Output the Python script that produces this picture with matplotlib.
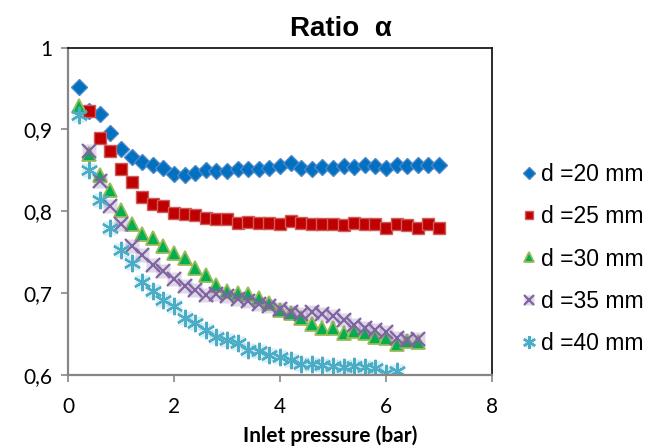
import matplotlib
matplotlib.use("Agg")
import matplotlib.pyplot as plt
from matplotlib.legend_handler import HandlerTuple
from matplotlib.ticker import FuncFormatter
import numpy as np

# pressure steps (bar)
p20 = np.arange(0.2, 7.01, 0.2)
p25 = np.arange(0.4, 7.01, 0.2)
p30 = np.arange(0.2, 6.61, 0.2)
p35 = np.arange(0.4, 6.61, 0.2)
p40 = np.arange(0.2, 6.21, 0.2)

ratio20 = [0.952, 0.922, 0.919, 0.895, 0.876, 0.866, 0.860, 0.857, 0.853, 0.845,
           0.844, 0.847, 0.850, 0.849, 0.849, 0.852, 0.851, 0.851, 0.853, 0.855,
           0.859, 0.853, 0.851, 0.854, 0.853, 0.855, 0.854, 0.856, 0.855, 0.853,
           0.857, 0.855, 0.856, 0.856, 0.857]
ratio25 = [0.922, 0.889, 0.873, 0.852, 0.836, 0.818, 0.809, 0.806, 0.798, 0.797,
           0.796, 0.792, 0.791, 0.790, 0.786, 0.787, 0.786, 0.786, 0.785, 0.788,
           0.786, 0.785, 0.785, 0.785, 0.783, 0.786, 0.785, 0.785, 0.780, 0.785,
           0.783, 0.779, 0.785, 0.780]
ratio30 = [0.928, 0.870, 0.844, 0.826, 0.802, 0.785, 0.772, 0.767, 0.757, 0.749,
           0.743, 0.731, 0.722, 0.710, 0.702, 0.700, 0.699, 0.694, 0.688, 0.680,
           0.676, 0.670, 0.662, 0.658, 0.658, 0.651, 0.654, 0.651, 0.647, 0.645,
           0.638, 0.641, 0.640]
ratio35 = [0.873, 0.837, 0.807, 0.784, 0.758, 0.747, 0.734, 0.727, 0.717, 0.709,
           0.704, 0.698, 0.699, 0.696, 0.693, 0.690, 0.687, 0.684, 0.681, 0.677,
           0.675, 0.677, 0.675, 0.672, 0.667, 0.661, 0.657, 0.655, 0.652, 0.645,
           0.643, 0.644]
ratio40 = [0.918, 0.850, 0.814, 0.780, 0.753, 0.737, 0.714, 0.702, 0.692, 0.684,
           0.670, 0.664, 0.655, 0.647, 0.643, 0.639, 0.631, 0.629, 0.625, 0.622,
           0.618, 0.613, 0.613, 0.612, 0.611, 0.610, 0.611, 0.610, 0.608, 0.603,
           0.605]

labels = ["d =20 mm", "d =25 mm", "d =30 mm", "d =35 mm", "d =40 mm"]
xticks = [0, 2, 4, 6, 8]
yticks = [0.6, 0.7, 0.8, 0.9, 1.0]

fig = plt.figure(figsize=(6.49, 4.47), dpi=100)
ax = fig.add_axes([68 / 649, 1 - 375 / 447, (492 - 68) / 649, (375 - 47.5) / 447])

h20, = ax.plot(p20, ratio20, ls="none", marker="D", ms=8.5, mfc="#0070C0",
               mec="#4A86C8", mew=1.0)
h25, = ax.plot(p25, ratio25, ls="none", marker="s", ms=8.3, mfc="#C00000",
               mec="#CD5C5A", mew=1.0)
h30, = ax.plot(p30, ratio30, ls="none", marker="^", ms=10, mfc="#00B050",
               mec="#9BBB59", mew=1.3)
b35, = ax.plot(p35, ratio35, ls="none", marker="s", ms=9.5, mfc="#8064A2",
               mec="none", alpha=0.25)
h35, = ax.plot(p35, ratio35, ls="none", marker="x", ms=10, mec="#8064A2", mew=1.6)
b40, = ax.plot(p40, ratio40, ls="none", marker="s", ms=9.5, mfc="#4BACC6",
               mec="none", alpha=0.2)
h40, = ax.plot(p40, ratio40, ls="none", marker=(6, 2, 0), ms=12.5, mec="#4BACC6",
               mew=1.6)

ax.set_xlim(0, 8)
ax.set_ylim(0.6, 1.0)
ax.set_xticks(xticks)
ax.set_yticks(yticks)
ax.yaxis.set_major_formatter(FuncFormatter(
    lambda v, pos: "1" if abs(v - 1) < 1e-9 else ("%.1f" % v).replace(".", ",")))
ax.tick_params(direction="out", length=5, width=1.2, color="#868686",
               labelsize=15, pad=6)
ax.tick_params(axis="x", pad=11)
for lab in ax.get_xticklabels() + ax.get_yticklabels():
    lab.set_fontfamily("Lato")
for s in ["left", "bottom"]:
    ax.spines[s].set_color("#868686")
    ax.spines[s].set_linewidth(1.6)
for s in ["top", "right"]:
    ax.spines[s].set_color("#1a1a1a")
    ax.spines[s].set_linewidth(1.3)

fig.text(341 / 649, 1 - 29 / 447, "Ratio  α", ha="center", va="center",
         fontsize=20, fontweight="bold", family="Liberation Sans")
fig.text(330 / 649, 1 - 436 / 447, "Inlet pressure (bar)", ha="center",
         va="center", fontsize=15, fontweight="bold", family="Lato")

leg = fig.legend([h20, h25, h30, (b35, h35), (b40, h40)], labels,
                 loc="center left", bbox_to_anchor=(505 / 649, 1 - 259 / 447),
                 frameon=False, handlelength=0.7, handletextpad=0.15,
                 labelspacing=0.85, markerscale=0.75, borderpad=0.2,
                 handler_map={tuple: HandlerTuple(ndivide=1, pad=0)},
                 prop={"family": "Liberation Sans", "size": 16.5})

fig.savefig("out.png", dpi=100)
